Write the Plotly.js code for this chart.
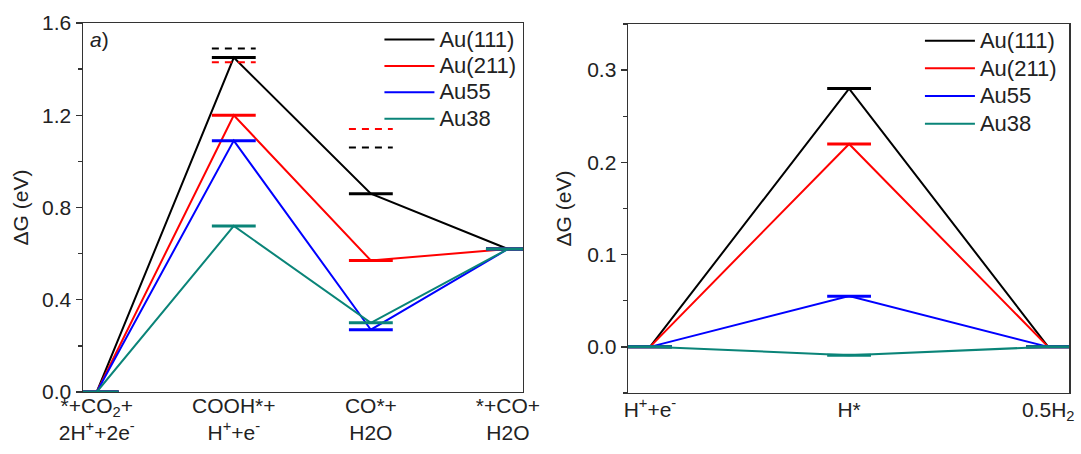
<!DOCTYPE html>
<html>
<head>
<meta charset="utf-8">
<script src="https://cdn.plot.ly/plotly-3.0.1.min.js"></script>
<style>html,body{margin:0;padding:0;background:#fff;}#chart{width:1081px;height:454px;}</style>
</head>
<body>
<div id="chart"></div>
<script>
// ---- data ----
const seriesNames = ['Au(111)', 'Au(211)', 'Au55', 'Au38'];
const seriesColors = ['#000000', '#ff0000', '#0000ff', '#0a8478'];

const stepsLeft = ['*+CO<sub>2</sub>+<br>2H<sup>+</sup>+2e<sup>-</sup>',
                   'COOH*+<br>H<sup>+</sup>+e<sup>-</sup>',
                   'CO*+<br>H2O',
                   '*+CO+<br>H2O'];
const au111Left = [0, 1.45, 0.86, 0.62];
const au211Left = [0, 1.20, 0.57, 0.62];
const au55Left  = [0, 1.09, 0.27, 0.62];
const au38Left  = [0, 0.72, 0.30, 0.62];
const dashedBlackLeft = [null, 1.49, 1.06, null];
const dashedRedLeft   = [null, 1.43, 1.14, null];

const stepsRight = ['H<sup>+</sup>+e<sup>-</sup>', 'H*', '0.5H<sub>2</sub>'];
const au111Right = [0, 0.28, 0];
const au211Right = [0, 0.22, 0];
const au55Right  = [0, 0.055, 0];
const au38Right  = [0, -0.009, 0];

const leftSeries = [au111Left, au211Left, au55Left, au38Left];
const rightSeries = [au111Right, au211Right, au55Right, au38Right];

// ---- helpers ----
function levelSegments(vals, half) {
  const xs = [], ys = [];
  vals.forEach((v, i) => {
    if (v === null) return;
    xs.push(i - half, i + half, null);
    ys.push(v, v, null);
  });
  return {x: xs, y: ys};
}

const traces = [];
const FONT = 'Liberation Sans, Arial, sans-serif';

function addPanel(series, xa, ya, half, legendName) {
  series.forEach((vals, k) => {
    const idx = vals.map((_, i) => i);
    traces.push({
      type: 'scatter', mode: 'lines', x: idx, y: vals, xaxis: xa, yaxis: ya,
      name: '<span style="font-size:22px">' + seriesNames[k] + '</span>', legend: legendName,
      line: {color: seriesColors[k], width: 2}, hoverinfo: 'skip'
    });
    const seg = levelSegments(vals, half);
    traces.push({
      type: 'scatter', mode: 'lines', x: seg.x, y: seg.y, xaxis: xa, yaxis: ya,
      showlegend: false, line: {color: seriesColors[k], width: 3}, hoverinfo: 'skip'
    });
  });
}

addPanel(leftSeries, 'x', 'y', 0.16, 'legend');
[[dashedBlackLeft, '#000000'], [dashedRedLeft, '#ff0000']].forEach(([vals, c]) => {
  const seg = levelSegments(vals, 0.16);
  traces.push({
    type: 'scatter', mode: 'lines', x: seg.x, y: seg.y, xaxis: 'x', yaxis: 'y',
    showlegend: false, line: {color: c, width: 2, dash: '7px,6px'}, hoverinfo: 'skip'
  });
});
addPanel(rightSeries, 'x2', 'y2', 0.11, 'legend2');

const axisCommon = {
  showline: true, mirror: true, linecolor: '#333', linewidth: 1.5,
  showgrid: false, zeroline: false,
  tickfont: {family: FONT, size: 21, color: '#222'}
};

const layout = {
  width: 1081, height: 454,
  margin: {l: 0, r: 0, t: 0, b: 0},
  paper_bgcolor: '#fff', plot_bgcolor: '#fff',
  font: {family: FONT, size: 21, color: '#222'},
  xaxis: Object.assign({}, axisCommon, {
    domain: [0.0768, 0.4838], range: [-0.1, 3.11], anchor: 'y',
    tickmode: 'array', tickvals: [0, 1, 2, 3], ticktext: stepsLeft, ticks: '',
    ticklabelstandoff: -6
  }),
  yaxis: Object.assign({}, axisCommon, {
    domain: [0.1366, 0.9493], range: [0, 1.6], anchor: 'x',
    dtick: 0.4, tick0: 0, tickformat: '.1f', ticks: 'outside', ticklen: 6, tickwidth: 1.5, tickcolor: '#333',
    minor: {dtick: 0.2, tick0: 0, ticks: 'outside', ticklen: 4, tickwidth: 1.5, tickcolor: '#333'},
    title: {text: 'ΔG (eV)', font: {family: FONT, size: 21, color: '#222'}, standoff: 8}
  }),
  xaxis2: Object.assign({}, axisCommon, {
    domain: [0.581, 0.989], range: [-0.11, 2.105], anchor: 'y2',
    tickmode: 'array', tickvals: [0, 1, 2], ticktext: stepsRight, ticks: '',
    ticklabelstandoff: -3
  }),
  yaxis2: Object.assign({}, axisCommon, {
    domain: [0.1344, 0.9471], range: [-0.05, 0.35], anchor: 'x2',
    dtick: 0.1, tick0: 0, tickformat: '.1f', ticks: 'outside', ticklen: 6, tickwidth: 1.5, tickcolor: '#333',
    minor: {dtick: 0.05, tick0: 0, ticks: 'outside', ticklen: 4, tickwidth: 1.5, tickcolor: '#333'},
    title: {text: 'ΔG (eV)', font: {family: FONT, size: 21, color: '#222'}, standoff: 10}
  }),
  legend: {
    x: 0.351, y: 0.953, xanchor: 'left', yanchor: 'top',
    bgcolor: 'rgba(0,0,0,0)', borderwidth: 0,
    font: {family: FONT, size: 18, color: '#222'}, tracegroupgap: 0, itemwidth: 50
  },
  legend2: {
    x: 0.851, y: 0.952, xanchor: 'left', yanchor: 'top',
    bgcolor: 'rgba(0,0,0,0)', borderwidth: 0,
    font: {family: FONT, size: 19, color: '#222'}, tracegroupgap: 0, itemwidth: 50
  },
  annotations: [{
    xref: 'paper', yref: 'paper', x: 0.081, y: 0.912, xanchor: 'left', yanchor: 'middle',
    text: '<i>a</i>)', showarrow: false, font: {family: FONT, size: 21, color: '#222'}
  }]
};

Plotly.newPlot('chart', traces, layout, {staticPlot: true, displayModeBar: false});
</script>
</body>
</html>
